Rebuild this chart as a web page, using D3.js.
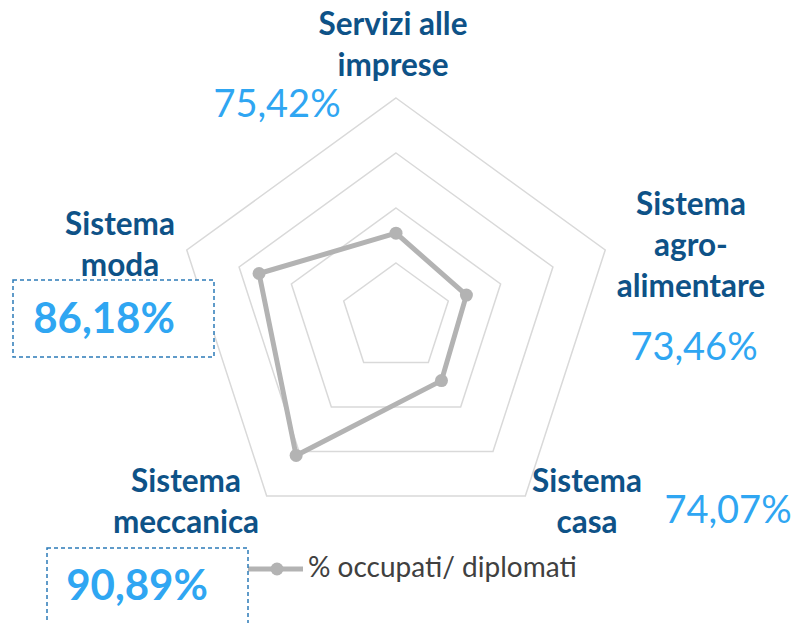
<!DOCTYPE html>
<html>
<head>
<meta charset="utf-8">
<script src="https://cdn.jsdelivr.net/npm/d3@7"></script>
<style>
  body { margin: 0; background: #fff; }
  svg { display: block; font-family: Lato, "Open Sans", sans-serif; }
  .cat { font-weight: bold; fill: #0e5287; font-size: 31.5px; }
  .val { fill: #2fa6f2; font-size: 38px; }
  .val.big { font-weight: bold; font-size: 42px; }
  .legend { fill: #404040; font-size: 28px; }
</style>
</head>
<body>
<script>
var w = 794;
var h = 623;

// data
var categories = ["Servizi alle imprese", "Sistema agro-alimentare", "Sistema casa", "Sistema meccanica", "Sistema moda"];
var labelLines = [["Servizi alle", "imprese"], ["Sistema", "agro-", "alimentare"], ["Sistema", "casa"], ["Sistema", "meccanica"], ["Sistema", "moda"]];
var values = [75.42, 73.46, 74.07, 90.89, 86.18];
var valueLabels = ["75,42%", "73,46%", "74,07%", "90,89%", "86,18%"];
var ticks = [60, 70, 80, 90, 100];
var seriesName = "% occupati/ diplomati";

// where excel left the labels (center x, first baseline)
var catPos = [[393, 35], [691, 215], [587, 492], [186, 492], [120, 235]];
var valPos = [[277, 117], [694, 360], [728, 523], [137, 600], [104, 333]];
// the two labels with the dashed frame
var boxed = [3, 4];
var boxes = { 3: [47, 548, 201, 80], 4: [13, 280, 201, 77] };

var cx = 396, cy = 318;

var svg = d3.select("body").append("svg").attr("width", w).attr("height", h);

var r = d3.scaleLinear()
    .domain([ticks[0], ticks[ticks.length - 1]])
    .range([0, 220]);

var angle = d3.scaleLinear()
    .domain([0, categories.length])
    .range([0, 2 * Math.PI]);

function pt(i, v) {
  var a = angle(i);
  return [cx + r(v) * Math.sin(a), cy - r(v) * Math.cos(a)];
}

// grid rings
var g = svg.append("g");
g.selectAll(".ring")
  .data(ticks.slice(1))
  .enter().append("path")
  .attr("class", "ring")
  .attr("d", function(t) {
    return d3.line()(categories.map(function(c, i) { return pt(i, t); })) + "Z";
  })
  .attr("fill", "none")
  .attr("stroke", "#d9d9d9")
  .attr("stroke-width", 1.5);

// series
var line = d3.line()
  .x(function(d, i) { return pt(i, d)[0]; })
  .y(function(d, i) { return pt(i, d)[1]; });

g.append("path")
  .attr("d", line(values) + "Z")
  .attr("fill", "none")
  .attr("stroke", "#b3b3b3")
  .attr("stroke-width", 5)
  .attr("stroke-linejoin", "round");

g.selectAll(".dot")
  .data(values)
  .enter().append("circle")
  .attr("class", "dot")
  .attr("cx", function(d, i) { return pt(i, d)[0]; })
  .attr("cy", function(d, i) { return pt(i, d)[1]; })
  .attr("r", 6.5)
  .attr("fill", "#b3b3b3");

// category labels
svg.selectAll(".cat")
  .data(labelLines)
  .enter().append("text")
  .attr("class", "cat")
  .attr("text-anchor", "middle")
  .each(function(lines, i) {
    var t = d3.select(this);
    lines.forEach(function(l, j) {
      t.append("tspan")
        .attr("x", catPos[i][0])
        .attr("y", catPos[i][1] + j * 41)
        .text(l);
    });
  });

// legend (drawn before the boxes, the frame sits on top of its line)
var lg = svg.append("g").attr("transform", "translate(248,569)");
lg.append("line").attr("x1", 0).attr("x2", 55)
  .attr("stroke", "#b3b3b3").attr("stroke-width", 5);
lg.append("circle").attr("cx", 29).attr("r", 6.5).attr("fill", "#b3b3b3");
lg.append("text").attr("class", "legend").attr("x", 60).attr("y", 8).text(seriesName);

// dashed frames
boxed.forEach(function(i) {
  var b = boxes[i];
  svg.append("rect")
    .attr("x", b[0]).attr("y", b[1])
    .attr("width", b[2]).attr("height", b[3])
    .attr("fill", "#fff")
    .attr("stroke", "#2c7bb8")
    .attr("stroke-width", 1.5)
    .attr("stroke-dasharray", "4,3");
});

// value labels
svg.selectAll(".val")
  .data(valueLabels)
  .enter().append("text")
  .attr("class", function(d, i) { return boxed.indexOf(i) >= 0 ? "val big" : "val"; })
  .attr("text-anchor", "middle")
  .attr("x", function(d, i) { return valPos[i][0]; })
  .attr("y", function(d, i) { return valPos[i][1]; })
  .text(function(d) { return d; });
</script>
</body>
</html>
